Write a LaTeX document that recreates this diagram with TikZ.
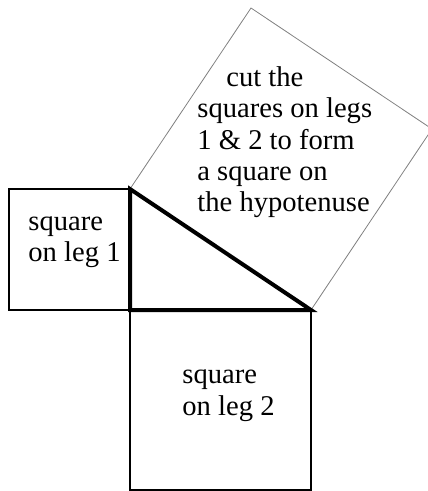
\documentclass[tikz,border=0pt]{standalone}
\usepackage{fontspec}
\setmainfont{Liberation Serif}
\begin{document}
\begin{tikzpicture}[x=0.5pt, y=-0.5pt,
    legsq/.style={draw=black, line width=0.6pt},
    hypsq/.style={draw=gray, line width=0.4pt},
    tri/.style={draw=black, line width=2pt, line join=miter},
    lbl/.style={anchor=base west, inner sep=0pt, align=left,
      font=\fontsize{14.3}{15.7}\selectfont}]

    \useasboundingbox (0,0) rectangle (427,491);

    % ==================================================
    % triangle vertices
    % ==================================================
    \coordinate (A) at (130,189);
    \coordinate (C) at (130,310);
    \coordinate (B) at (311,310);

    % ==================================================
    % squares
    % ==================================================

    % square on leg 1
    \coordinate (L1) at (9,189);
    \coordinate (L2) at (9,310);
    \draw[legsq] (A) -- (L1) -- (L2) -- (C);

    % square on leg 2
    \coordinate (M1) at (130,490);
    \coordinate (M2) at (311,490);
    \draw[legsq] (C) -- (M1) -- (M2) -- (B);

    % square on the hypotenuse
    \coordinate (H1) at (251,8);
    \coordinate (H2) at (432,129);
    \draw[hypsq] (A) -- (H1) -- (H2) -- (B);

    % ==================================================
    % right triangle
    % ==================================================
    \draw[tri] (A) -- (C) -- (B) -- cycle;

    % ==================================================
    % labels (anchored at the baseline of the last line)
    % ==================================================
    \node[lbl] (t1) at (28,262) {square\\on leg 1};
    \node[lbl] (t2) at (182,415) {square\\on leg 2};
    \node[lbl] (t3) at (197,212)
      {\hspace*{14.5pt}cut the\\squares on legs\\1 \& 2 to form\\a square on\\the hypotenuse};

\end{tikzpicture}
\end{document}
